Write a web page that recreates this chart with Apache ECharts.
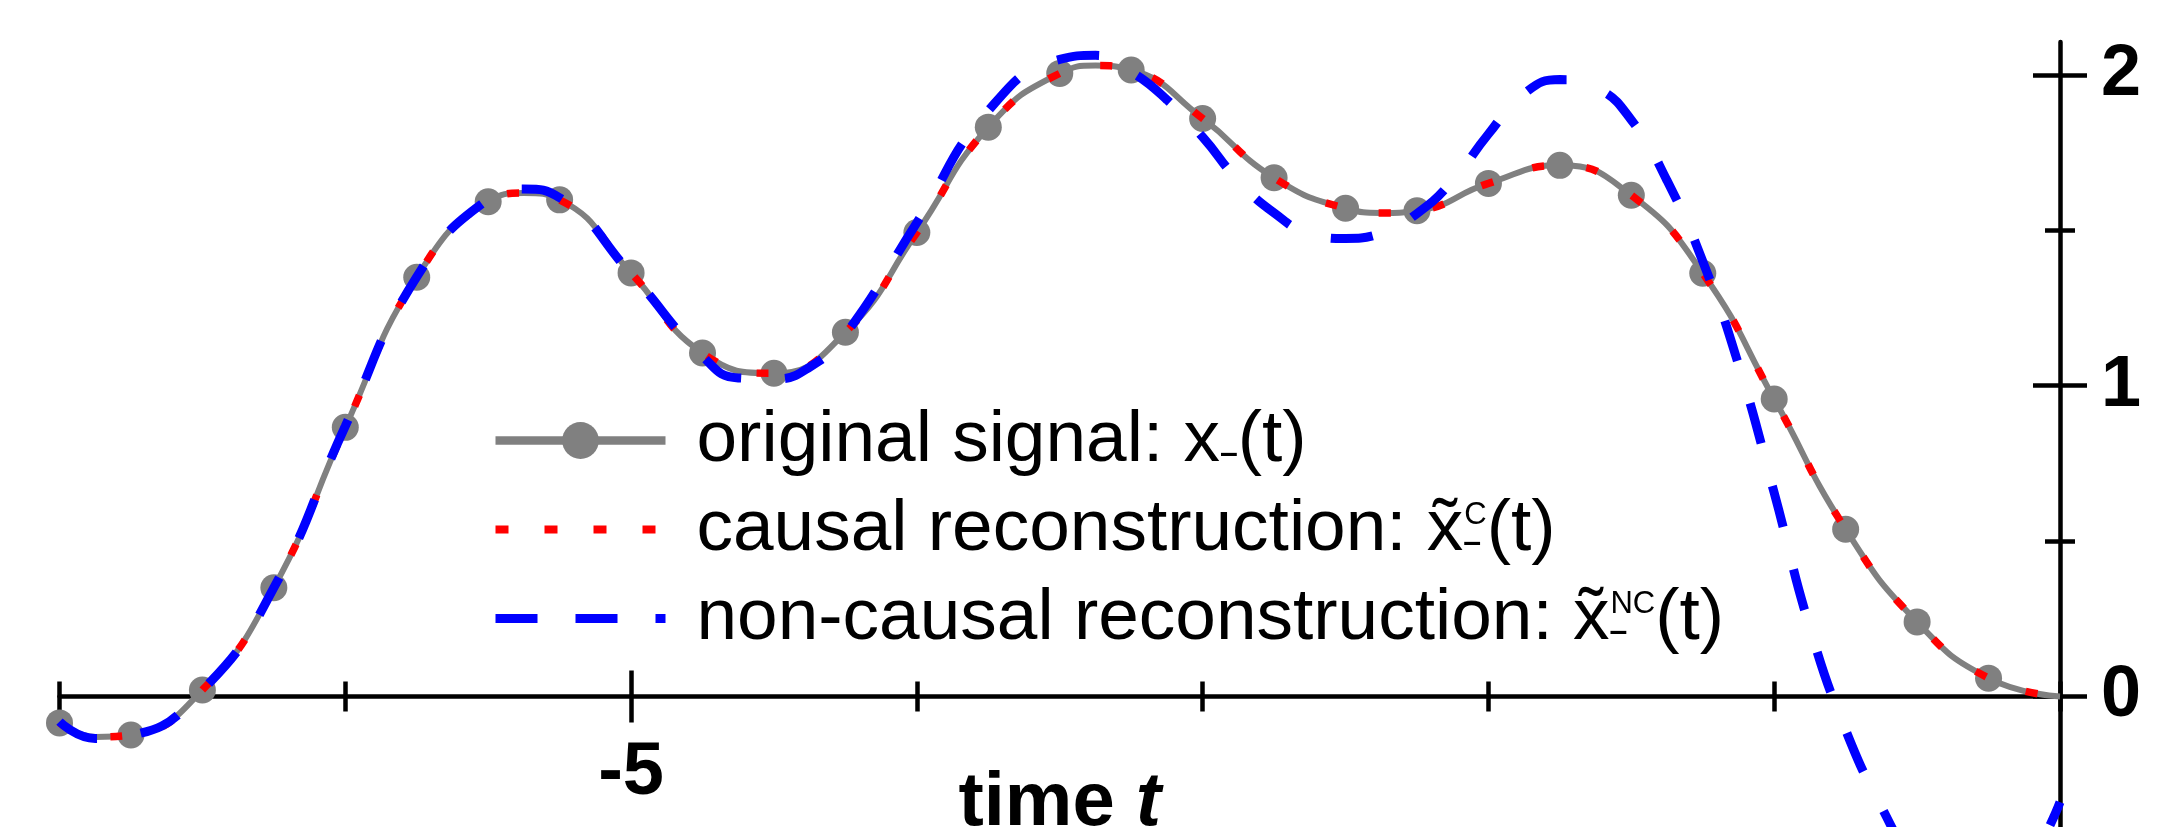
<!DOCTYPE html>
<html>
<head>
<meta charset="utf-8">
<script src="https://cdn.jsdelivr.net/npm/echarts@6/dist/echarts.min.js"></script>
<style>
html,body{margin:0;padding:0;background:#fff;}
#chart{width:2171px;height:827px;}
</style>
</head>
<body>
<div id="chart"></div>
<script>
// ---- data ----
// original signal (line points, incl. a few extra read-off points at the extrema)
const signalTimes = [-7, -6.875, -6.75, -6.5, -6.25, -6, -5.75, -5.5, -5.375, -5.25, -5, -4.75, -4.5, -4.25, -4, -3.75, -3.5, -3.375, -3.25, -3, -2.75, -2.5, -2.375, -2.25, -2, -1.75, -1.5, -1.25, -1, -0.75, -0.5, -0.25, 0];
const signalValues = [-0.085, -0.13, -0.124, 0.021, 0.350, 0.866, 1.349, 1.592, 1.62, 1.598, 1.363, 1.105, 1.040, 1.172, 1.493, 1.832, 2.005, 2.03, 2.016, 1.860, 1.669, 1.571, 1.556, 1.563, 1.651, 1.709, 1.613, 1.362, 0.957, 0.538, 0.240, 0.059, 0];
// sample instants drawn as dots
const sampleTimes = [-7, -6.75, -6.5, -6.25, -6, -5.75, -5.5, -5.25, -5, -4.75, -4.5, -4.25, -4, -3.75, -3.5, -3.25, -3, -2.75, -2.5, -2.25, -2, -1.75, -1.5, -1.25, -1, -0.75, -0.5, -0.25];
// causal reconstruction (coincides with the original signal)
const causalTimes = [-7, -6.875, -6.75, -6.5, -6.25, -6, -5.75, -5.5, -5.375, -5.25, -5, -4.75, -4.5, -4.25, -4, -3.75, -3.5, -3.375, -3.25, -3, -2.75, -2.5, -2.375, -2.25, -2, -1.75, -1.5, -1.25, -1, -0.75, -0.5, -0.25, 0];
const causalValues = [-0.085, -0.13, -0.124, 0.021, 0.350, 0.866, 1.349, 1.592, 1.62, 1.598, 1.363, 1.105, 1.040, 1.172, 1.493, 1.832, 2.005, 2.03, 2.016, 1.860, 1.669, 1.571, 1.556, 1.563, 1.651, 1.709, 1.613, 1.362, 0.957, 0.538, 0.240, 0.059, 0];
// non-causal reconstruction
const ncTimes = [-7, -6.875, -6.75, -6.5, -6.25, -6, -5.75, -5.5, -5.375, -5.25, -5, -4.75, -4.625, -4.5, -4.375, -4.25, -4, -3.75, -3.5, -3.375, -3.25, -3.125, -3, -2.875, -2.75, -2.625, -2.5, -2.375, -2.25, -2.125, -2, -1.875, -1.75, -1.625, -1.5, -1.375, -1.25, -1.125, -1, -0.875, -0.75, -0.625, -0.5, -0.375, -0.25, -0.125, 0];
const ncValues = [-0.081, -0.135, -0.125, 0.02, 0.35, 0.87, 1.35, 1.60, 1.633, 1.605, 1.36, 1.095, 1.025, 1.022, 1.06, 1.165, 1.525, 1.885, 2.05, 2.063, 2.01, 1.92, 1.80, 1.66, 1.556, 1.49, 1.474, 1.49, 1.554, 1.66, 1.81, 1.94, 1.985, 1.96, 1.855, 1.66, 1.40, 1.068, 0.655, 0.22, -0.108, -0.355, -0.55, -0.66, -0.67, -0.56, -0.34];
const xMajorTicks = [-5];
const xLabelValues = [-5];
const yMajorTicks = [0, 1, 2];
const yMinorTicks = [0.5, 1.5];
const seriesNames = ['original signal: x_(t)', 'causal reconstruction: x~C(t)', 'non-causal reconstruction: x~NC(t)'];

// ---- chart ----
const FONT = "'Liberation Sans', Arial, sans-serif";
const BLACK = '#000';
const AX_W = 4.5;
const Y_MIN = -0.42, Y_MAX = 2.106;
const GRID_TOP = 42, GRID_H = 827 - 42;
// offset of the x axis from the grid bottom so that it sits at y = 0
const X_OFFSET = -GRID_H * (0 - Y_MIN) / (Y_MAX - Y_MIN);

function xAx(extra) {
  return Object.assign({
    type: 'value', min: -7, max: 0, interval: 1, position: 'bottom', offset: X_OFFSET,
    axisLine: { show: false, onZero: false, lineStyle: { color: BLACK, width: AX_W } },
    axisTick: { show: false },
    axisLabel: { show: false },
    splitLine: { show: false }
  }, extra);
}
function yAx(extra) {
  return Object.assign({
    type: 'value', min: Y_MIN, max: Y_MAX, position: 'right',
    axisLine: { show: false, onZero: false, lineStyle: { color: BLACK, width: AX_W } },
    axisTick: { show: false },
    axisLabel: { show: false },
    splitLine: { show: false }
  }, extra);
}
const tickStyle = { color: BLACK, width: AX_W };

const chart = echarts.init(document.getElementById('chart'), null, { renderer: 'canvas' });

const legendRich = {
  n: { fontSize: 73, fontFamily: FONT, color: BLACK, lineHeight: 60 },
  sb: { fontSize: 32, fontWeight: 'bold', fontFamily: FONT, color: BLACK, verticalAlign: 'bottom' },
  sbz: { fontSize: 32, fontWeight: 'bold', fontFamily: FONT, color: BLACK, verticalAlign: 'bottom', width: 1 },
  sp: { fontSize: 31, fontFamily: FONT, color: BLACK, verticalAlign: 'top' }
};
const legendText = {};
legendText[seriesNames[0]] = '{n|original signal: x}{sb|\u2013}{n|(t)}';
legendText[seriesNames[1]] = '{n|causal reconstruction: x\u0303}{sbz|\u2013}{sp|C}{n|(t)}';
legendText[seriesNames[2]] = '{n|non-causal reconstruction: x\u0303}{sbz|\u2013}{sp|NC}{n|(t)}';

const option = {
  animation: false,
  backgroundColor: '#fff',
  textStyle: { fontFamily: FONT },
  grid: { left: 59.5, right: 111, top: GRID_TOP, bottom: 0, containLabel: false, outerBoundsMode: 'none' },
  xAxis: [
    xAx({
      axisLine: { show: true, onZero: false, lineStyle: { color: BLACK, width: AX_W } },
      axisTick: { show: true, inside: false, length: 15, lineStyle: tickStyle },
      axisLabel: { show: true, customValues: xLabelValues, margin: 40, color: BLACK, fontSize: 74, fontWeight: 'bold', fontFamily: FONT },
      name: '{a|time }{b|t}',
      nameLocation: 'middle',
      nameGap: 70,
      nameMoveOverlap: false,
      nameTextStyle: {
        rich: {
          a: { fontSize: 76, fontWeight: 'bold', fontFamily: FONT, color: BLACK },
          b: { fontSize: 76, fontWeight: 'bold', fontStyle: 'italic', fontFamily: FONT, color: BLACK }
        }
      }
    }),
    xAx({ axisTick: { show: true, inside: true, length: 15, lineStyle: tickStyle } }),
    xAx({ axisTick: { show: true, inside: false, length: 26, customValues: xMajorTicks, lineStyle: tickStyle } }),
    xAx({ axisTick: { show: true, inside: true, length: 26, customValues: xMajorTicks, lineStyle: tickStyle } })
  ],
  yAxis: [
    yAx({
      axisLine: { show: true, onZero: false, lineStyle: { color: BLACK, width: AX_W } },
      axisTick: { show: true, inside: false, length: 27, customValues: yMajorTicks, lineStyle: tickStyle },
      axisLabel: { show: true, customValues: yMajorTicks, margin: 41, color: BLACK, fontSize: 72, fontWeight: 'bold', fontFamily: FONT }
    }),
    yAx({ axisTick: { show: true, inside: true, length: 27, customValues: yMajorTicks, lineStyle: tickStyle } }),
    yAx({ axisTick: { show: true, inside: false, length: 15, customValues: yMinorTicks, lineStyle: tickStyle } }),
    yAx({ axisTick: { show: true, inside: true, length: 15, customValues: yMinorTicks, lineStyle: tickStyle } })
  ],
  legend: {
    orient: 'vertical',
    left: 491, top: 404, padding: 0,
    itemWidth: 170, itemHeight: 46, itemGap: 16,
    selectedMode: false,
    data: [
      { name: seriesNames[0], lineStyle: { width: 8.5, cap: 'butt' } },
      { name: seriesNames[1], lineStyle: { width: 8, type: [13, 36], cap: 'butt' }, itemStyle: { opacity: 0 } },
      { name: seriesNames[2], lineStyle: { width: 9, type: [42, 38], cap: 'butt' }, itemStyle: { opacity: 0 } }
    ],
    formatter: function (name) { return legendText[name]; },
    textStyle: { fontSize: 73, lineHeight: 60, fontFamily: FONT, color: BLACK, padding: [0, 0, 0, 26], rich: legendRich }
  },
  series: [
    {
      name: seriesNames[0], type: 'line', z: 2,
      xAxisIndex: 0, yAxisIndex: 0,
      data: signalTimes.map((t, i) => (sampleTimes.indexOf(t) >= 0
        ? [t, signalValues[i]]
        : { value: [t, signalValues[i]], symbol: 'none' })),
      smooth: true,
      symbol: 'circle', symbolSize: 27, showSymbol: true,
      itemStyle: { color: '#808080' },
      lineStyle: { color: '#808080', width: 6 },
      emphasis: { disabled: true }
    },
    {
      name: seriesNames[1], type: 'line', z: 3,
      xAxisIndex: 0, yAxisIndex: 0,
      data: causalTimes.map((t, i) => [t, causalValues[i]]),
      smooth: true,
      symbol: 'none', showSymbol: false,
      itemStyle: { color: '#ff0000' },
      lineStyle: { color: '#ff0000', width: 7.5, type: [12, 42], cap: 'butt' },
      emphasis: { disabled: true }
    },
    {
      name: seriesNames[2], type: 'line', z: 4,
      xAxisIndex: 0, yAxisIndex: 0,
      data: ncTimes.map((t, i) => [t, ncValues[i]]),
      smooth: true,
      symbol: 'none', showSymbol: false,
      itemStyle: { color: '#0000ff' },
      lineStyle: { color: '#0000ff', width: 9, type: [42, 44], cap: 'butt' },
      emphasis: { disabled: true }
    }
  ]
};
chart.setOption(option);
</script>
</body>
</html>
